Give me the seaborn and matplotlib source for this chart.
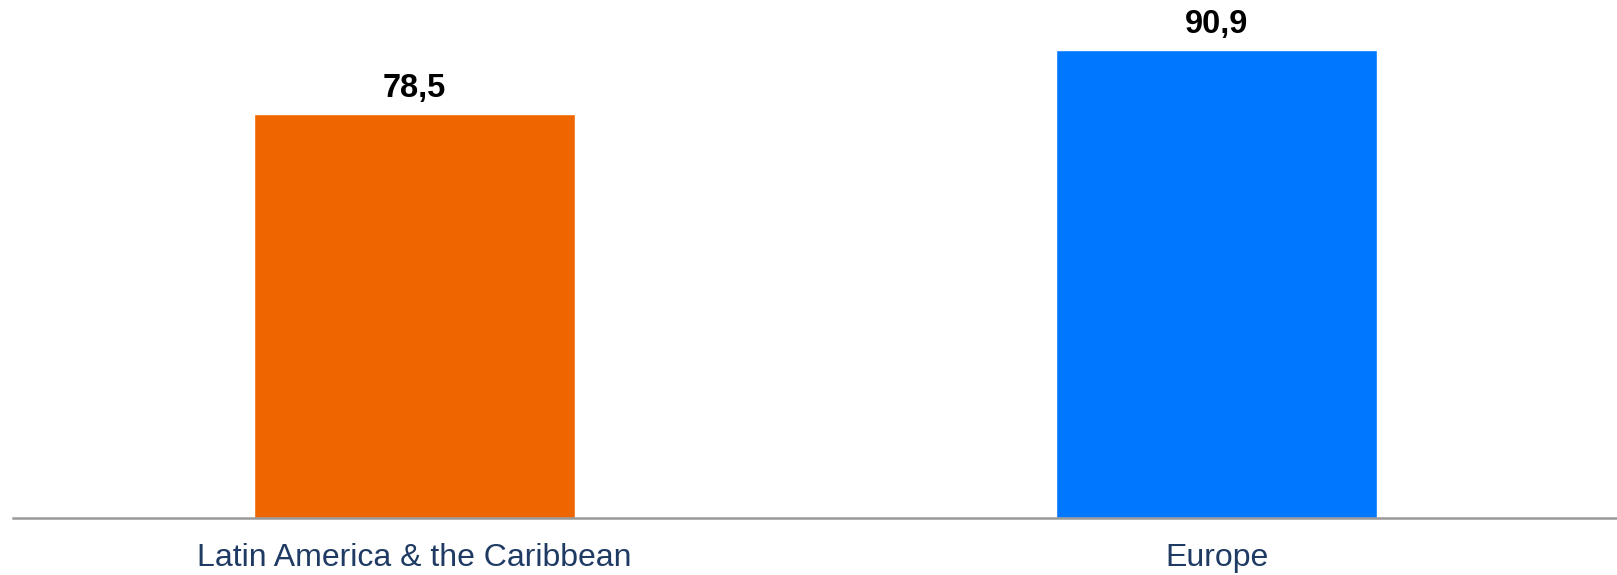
import matplotlib
matplotlib.use("Agg")
import matplotlib.pyplot as plt
import seaborn as sns
import pandas as pd

categories = ["Latin America & the Caribbean", "Europe"]
values = [78.5, 90.9]
bar_colors = ["#EE6600", "#0077FF"]

sns.set_theme(style="white")
plt.rcParams["font.family"] = ["Liberation Sans", "DejaVu Sans"]

df = pd.DataFrame({"region": categories, "value": values})

W, H = 1617, 575
fig = plt.figure(figsize=(W / 100, H / 100), dpi=100)
ax = fig.add_axes([12.75 / W, 56.7 / H, 1605 / W, 515.1 / H])

sns.barplot(data=df, x="region", y="value", hue="region", order=categories,
            hue_order=categories, palette=bar_colors, width=0.4,
            legend=False, ax=ax, saturation=1)

ax.set_xlim(-0.5, 1.5)
ax.set_ylim(0, 100)
ax.set_xlabel("")
ax.set_ylabel("")
ax.set_yticks([])
for s in ["top", "right", "left"]:
    ax.spines[s].set_visible(False)
ax.spines["bottom"].set_color("#999999")
ax.spines["bottom"].set_linewidth(1.8)
ax.tick_params(axis="x", length=0, pad=18, labelsize=23, labelcolor="#1F3B63")

for cont in ax.containers:
    ax.bar_label(cont, labels=[f"{v:.1f}".replace(".", ",") for v in cont.datavalues],
                 padding=7, fontsize=23.5, fontweight="bold", color="black")

fig.savefig("out.png", dpi=100, facecolor="white")
